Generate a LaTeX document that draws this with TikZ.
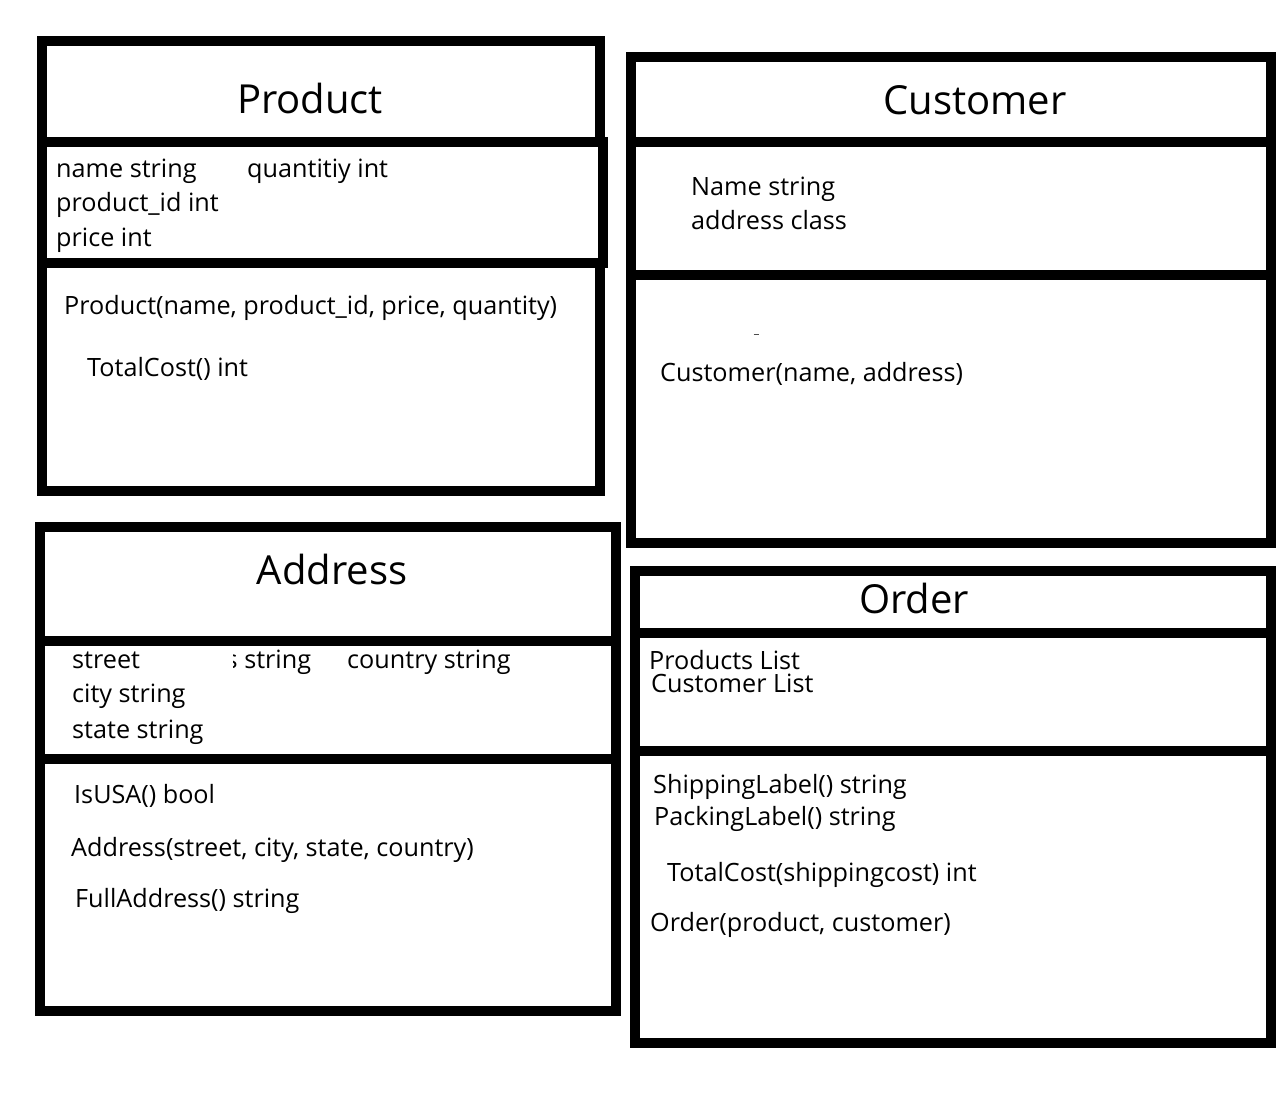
\documentclass[tikz,border=0pt]{standalone}
\usepackage{fontspec}
\setmainfont{Open Sans}
\begin{document}
\begin{tikzpicture}[x=1pt,y=-1pt,
  frame/.style={draw=black, line width=10pt, fill=white, inner sep=0pt, outer sep=0pt},
  ctitle/.style={font=\fontsize{40}{48}\selectfont, inner sep=0pt},
  txt/.style={font=\fontsize{25.2}{30}\selectfont, inner sep=0pt, anchor=west, text height=19pt, text depth=6pt, yshift=-2pt}]
\useasboundingbox[fill=white] (0,0) rectangle (1280,1104);

% ---------- Product ----------
\node[frame, minimum width=558pt, minimum height=101pt] (prodT) at (321,91.5) {};
\node[frame, minimum width=561pt, minimum height=121pt] (prodA) at (322.5,202.5) {};
\node[frame, minimum width=558pt, minimum height=228pt] (prodM) at (321,377) {};
\node[ctitle] (prodName) at (310,98) {Product};
\node[txt] (p1) at (56,169) {name string};
\node[txt] (p2) at (247,169) {quantitiy int};
\node[txt] (p3) at (56,203) {product\_id int};
\node[txt] (p4) at (56,238) {price int};
\node[txt] (p5) at (64,306) {Product(name, product\_id, price, quantity)};
\node[txt] (p6) at (87,368) {TotalCost() int};

% ---------- Customer ----------
\node[frame, minimum width=640pt, minimum height=85pt] (custT) at (951,99.5) {};
\node[frame, minimum width=640pt, minimum height=133pt] (custA) at (951,208.5) {};
\node[frame, minimum width=640pt, minimum height=268pt] (custM) at (951,409) {};
\node[ctitle] (custName) at (975,100) {Customer};
\node[txt] (c1) at (691,187) {Name string};
\node[txt] (c2) at (691,221) {address class};
\draw[line width=1pt, black!70] (753.5,334) -- (759,334);
\node[txt] (c3) at (660,373) {Customer(name, address)};

% ---------- Address ----------
\node[frame, minimum width=576pt, minimum height=114pt] (addrT) at (328,584) {};
\node[frame, minimum width=576pt, minimum height=118pt] (addrA) at (328,700) {};
\node[frame, minimum width=576pt, minimum height=252pt] (addrM) at (328,885) {};
\node[ctitle] (addrName) at (332,569) {Address};
\node[txt] (a1) at (72,660) {street};
\begin{scope}
  \clip (233,645) rectangle (330,680);
  \node[txt] (a2) at (225.5,660) {s string};
\end{scope}
\node[txt] (a3) at (347,660) {country string};
\node[txt] (a4) at (72,694) {city string};
\node[txt] (a5) at (72,730) {state string};
\node[txt] (a6) at (74,795) {IsUSA() bool};
\node[txt] (a7) at (71,848) {Address(street, city, state, country)};
\node[txt] (a8) at (75,899) {FullAddress() string};

% ---------- Order ----------
\node[frame, minimum width=636pt, minimum height=62pt] (ordT) at (953,602) {};
\node[frame, minimum width=636pt, minimum height=118pt] (ordA) at (953,692) {};
\node[frame, minimum width=636pt, minimum height=292pt] (ordM) at (953,897) {};
\node[ctitle] (ordName) at (914,598) {Order};
\node[txt] (o1) at (649,661) {Products List};
\node[txt] (o2) at (651,684) {Customer List};
\node[txt] (o3) at (653,785) {ShippingLabel() string};
\node[txt] (o4) at (654,817) {PackingLabel() string};
\node[txt] (o5) at (667,873) {TotalCost(shippingcost) int};
\node[txt] (o6) at (650,923) {Order(product, customer)};
\end{tikzpicture}
\end{document}
